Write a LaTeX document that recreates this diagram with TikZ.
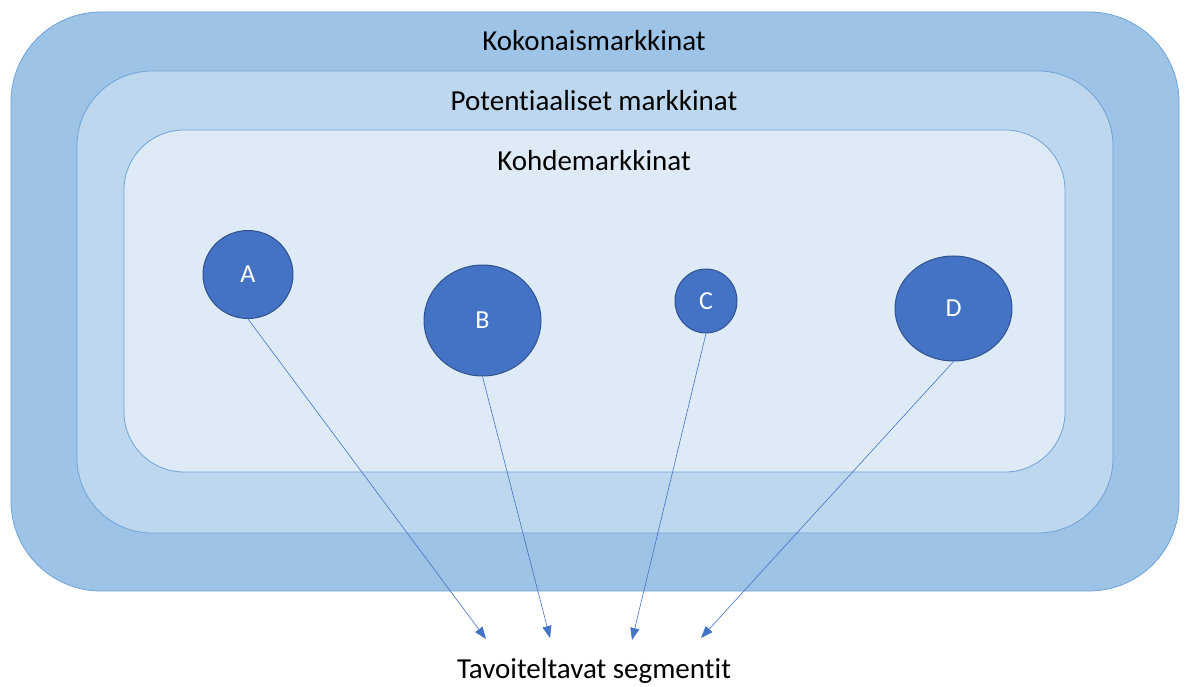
\documentclass[tikz,border=0pt]{standalone}
\usepackage{fontspec}
\setmainfont{Carlito}[Ligatures={NoCommon}]
\usetikzlibrary{arrows.meta,shapes.geometric}
\definecolor{outerfill}{HTML}{9DC3E6}
\definecolor{midfill}{HTML}{BDD7EE}
\definecolor{innerfill}{HTML}{DEEBF7}
\definecolor{boxline}{HTML}{6FA3D8}
\definecolor{circfill}{HTML}{4472C4}
\definecolor{circline}{HTML}{2F528F}
\definecolor{arrowcol}{HTML}{4472C4}
\tikzset{
  market/.style={draw=boxline, line width=0.8pt, inner sep=0pt},
  mlabel/.style={font=\fontsize{29}{34}\selectfont, text=black, inner sep=0pt},
  segment/.style={ellipse, draw=circline, line width=1pt, fill=circfill, text=white, font=\fontsize{26}{30}\selectfont, inner sep=0pt},
  pointer/.style={draw=arrowcol, line width=0.6pt, -{Triangle[length=12pt,width=9pt]}}
}
\begin{document}
\begin{tikzpicture}[x=1pt,y=-1pt]
\useasboundingbox (0,0) rectangle (1187,687);
\node[market, fill=outerfill, rounded corners=90pt, minimum width=1168pt, minimum height=579pt] (outer) at (595,301.5) {};
\node[market, fill=midfill, rounded corners=75pt, minimum width=1036pt, minimum height=462pt] (mid) at (595,302) {};
\node[market, fill=innerfill, rounded corners=60pt, minimum width=941pt, minimum height=342pt] (inner) at (594.5,301) {};
\node[mlabel] (l1) at (594,41) {Kokonaismarkkinat};
\node[mlabel] (l2) at (594,101) {Potentiaaliset markkinat};
\node[mlabel] (l3) at (594,161) {Kohdemarkkinat};
\node[segment, minimum width=90pt, minimum height=88pt] (A) at (248,274.5) {A};
\node[segment, minimum width=117pt, minimum height=111pt] (B) at (482.5,320.5) {B};
\node[segment, minimum width=62pt, minimum height=64pt] (C) at (706,301) {C};
\node[segment, minimum width=117pt, minimum height=105pt] (D) at (953.5,308.5) {D};
\node[mlabel] (goal) at (594,671) {Tavoiteltavat segmentit};
\coordinate (tA) at (486,639);
\coordinate (tB) at (550,638);
\coordinate (tC) at (632,640);
\coordinate (tD) at (701,638);
\draw[pointer] (A.south) -- (tA);
\draw[pointer] (B.south) -- (tB);
\draw[pointer] (C.south) -- (tC);
\draw[pointer] (D.south) -- (tD);
\end{tikzpicture}
\end{document}
